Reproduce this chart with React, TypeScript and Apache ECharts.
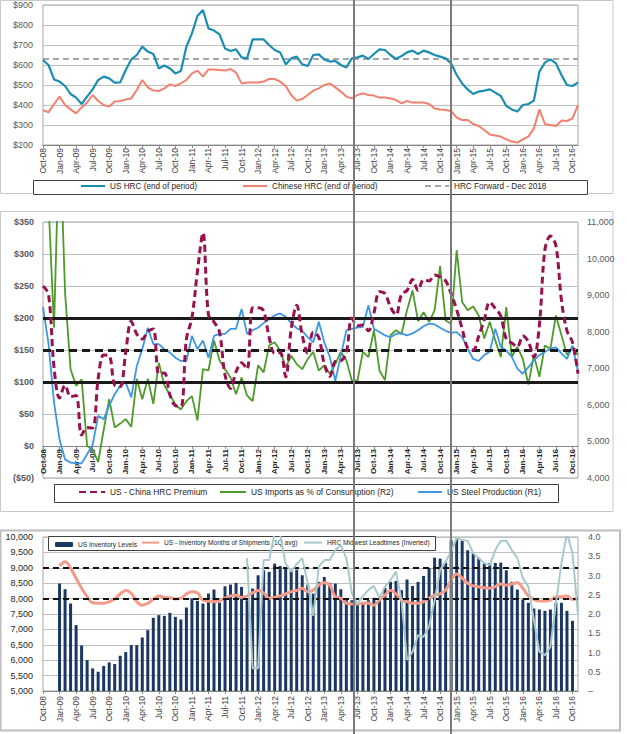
import React, { useEffect, useRef } from "react";
import * as echarts from "echarts";

const months = [
  "Oct-08", "Nov-08", "Dec-08",
  "Jan-09", "Feb-09", "Mar-09", "Apr-09", "May-09", "Jun-09", "Jul-09", "Aug-09", "Sep-09", "Oct-09", "Nov-09", "Dec-09",
  "Jan-10", "Feb-10", "Mar-10", "Apr-10", "May-10", "Jun-10", "Jul-10", "Aug-10", "Sep-10", "Oct-10", "Nov-10", "Dec-10",
  "Jan-11", "Feb-11", "Mar-11", "Apr-11", "May-11", "Jun-11", "Jul-11", "Aug-11", "Sep-11", "Oct-11", "Nov-11", "Dec-11",
  "Jan-12", "Feb-12", "Mar-12", "Apr-12", "May-12", "Jun-12", "Jul-12", "Aug-12", "Sep-12", "Oct-12", "Nov-12", "Dec-12",
  "Jan-13", "Feb-13", "Mar-13", "Apr-13", "May-13", "Jun-13", "Jul-13", "Aug-13", "Sep-13", "Oct-13", "Nov-13", "Dec-13",
  "Jan-14", "Feb-14", "Mar-14", "Apr-14", "May-14", "Jun-14", "Jul-14", "Aug-14", "Sep-14", "Oct-14", "Nov-14", "Dec-14",
  "Jan-15", "Feb-15", "Mar-15", "Apr-15", "May-15", "Jun-15", "Jul-15", "Aug-15", "Sep-15", "Oct-15", "Nov-15", "Dec-15",
  "Jan-16", "Feb-16", "Mar-16", "Apr-16", "May-16", "Jun-16", "Jul-16", "Aug-16", "Sep-16", "Oct-16", "Nov-16",
];

// Panel 1 ($/t)
const usHrc = [
  625, 600, 528, 517, 495, 455, 437, 405, 442, 478,
  525, 542, 533, 512, 513, 575, 628, 650, 692, 667,
  655, 583, 597, 583, 558, 570, 692, 758, 845, 875,
  783, 772, 753, 683, 670, 678, 638, 633, 728, 728,
  728, 700, 675, 663, 603, 633, 642, 603, 595, 650,
  653, 628, 617, 620, 600, 588, 633, 638, 647, 630,
  655, 678, 675, 650, 630, 645, 663, 672, 655, 672,
  663, 650, 642, 633, 608, 550, 508, 478, 455, 467,
  472, 478, 462, 445, 395, 378, 367, 400, 405, 422,
  567, 612, 628, 608, 550, 500, 495, 513,
];
const chinaHrc = [
  375, 363, 405, 442, 400, 378, 358, 388, 413, 450,
  420, 400, 392, 417, 420, 428, 433, 475, 525, 488,
  472, 470, 483, 503, 495, 508, 525, 558, 572, 542,
  578, 578, 575, 572, 580, 562, 508, 513, 512, 512,
  517, 530, 530, 517, 495, 450, 422, 430, 450, 472,
  483, 500, 508, 488, 467, 442, 433, 450, 458, 450,
  447, 437, 437, 433, 425, 408, 420, 412, 412, 412,
  405, 383, 378, 375, 370, 337, 325, 325, 305, 295,
  275, 253, 247, 242, 228, 217, 212, 228, 242, 283,
  378, 305, 300, 295, 322, 320, 333, 400,
];
const hrcForward = 630;

// Panel 2
const premium = [
  250, 237, 123, 75, 95, 77, 79, 17, 29, 28,
  105, 142, 141, 95, 93, 147, 195, 175, 167, 179,
  183, 113, 114, 80, 63, 62, 167, 200, 273, 333,
  205, 194, 178, 111, 90, 116, 130, 120, 216, 216,
  211, 170, 145, 146, 108, 183, 220, 173, 145, 178,
  170, 128, 109, 132, 133, 146, 200, 188, 189, 180,
  208, 241, 238, 217, 205, 237, 243, 260, 243, 260,
  258, 267, 264, 258, 238, 213, 183, 153, 150, 172,
  197, 225, 215, 203, 167, 161, 155, 172, 163, 139,
  189, 307, 328, 313, 228, 180, 162, 113,
];
const importsPct = [
  55, 48, 28.5, 60, 34, 22, 19.4, 20.4, 10, 9.5,
  7.5, 12.5, 17.3, 12.9, 13.5, 14.2, 13, 20.5, 17.3, 20.5,
  16.6, 23, 19.5, 18, 16.5, 15.7, 17, 17.8, 14, 22,
  21.8, 26.5, 23.4, 22, 20.7, 18.1, 20.7, 17.9, 17, 22.6,
  21.5, 25.7, 26.2, 24.9, 22.3, 24.1, 22.8, 22, 23.6, 24.7,
  21.8, 22.6, 21.3, 22.8, 24.7, 23.4, 20.2, 20.2, 24.7, 23.9,
  28.1, 21.8, 20.3, 27.3, 28.1, 27.5, 31.2, 34.3, 29.5, 30.9,
  29.4, 31.2, 38.1, 29.6, 29.1, 40.6, 32.5, 31.2, 31.8, 30.4,
  26.8, 29.4, 26.5, 23.9, 31.7, 23.9, 25.5, 23.6, 19.6, 24.2,
  20.8, 25.7, 25.2, 30.4, 27.3, 24.2, 25.5, 24.2,
];
const steelProd = [
  8672, 7675, 6065, 5050, 4508, 4420, 4400, 4400, 4650, 4910,
  5700, 5610, 5980, 6290, 6520, 6610, 6205, 7060, 7520, 8110,
  7660, 7660, 7520, 7430, 7290, 7200, 7200, 7885, 7520, 7760,
  7290, 7885, 7940, 7940, 8080, 8080, 8620, 7940, 8040, 8110,
  8235, 8340, 8445, 8500, 8410, 8235, 8095, 8025, 7850, 7710,
  8270, 7710, 7310, 6660, 7340, 8040, 8080, 8110, 8130, 8725,
  8080, 7990, 7900, 7850, 7940, 7955, 7900, 7955, 8040, 8150,
  8220, 8200, 8110, 8025, 7970, 7990, 7850, 7535, 7255, 7200,
  7360, 7450, 8080, 7590, 7480, 7310, 6990, 6850, 7030, 7220,
  7360, 7450, 7535, 7570, 7410, 7255, 7620, 6905,
];

// Panel 3
const inventory = [
  null, null, null, 8488, 8304, 7840, 7138, 6479, 6004, 5734,
  5626, 5810, 5928, 5874, 6144, 6263, 6490, 6490, 6738, 6976,
  7376, 7462, 7440, 7538, 7408, 7322, 7710, 8002, 7926, 7840,
  8164, 8294, 7872, 8402, 8456, 8510, 8380, 7948, 8326, 8758,
  8920, 8866, 9136, 9060, 8974, 8920, 8942, 8758, 8456, 8164,
  8542, 8704, 8510, 8488, 8304, 7948, 7948, 7850, 7894, 7948,
  8024, 8056, 8348, 8542, 8574, 8272, 8618, 8412, 8542, 8736,
  8996, 9330, 9298, 9168, 9892, 9946, 9870, 9568, 9482, 9330,
  9136, 9158, 9158, 9168, 8920, 8542, 8294, 7970, 7862, 7678,
  7646, 7602, 7646, 7862, 7862, 7602, 7278, null,
];
const monthsShip = [
  null, null, null, 3.25, 3.36, 3.19, 2.93, 2.67, 2.45, 2.29,
  2.28, 2.28, 2.32, 2.39, 2.52, 2.61, 2.54, 2.32, 2.23, 2.28,
  2.38, 2.47, 2.43, 2.42, 2.39, 2.41, 2.52, 2.58, 2.55, 2.36,
  2.34, 2.32, 2.35, 2.41, 2.47, 2.49, 2.43, 2.47, 2.55, 2.61,
  2.55, 2.41, 2.43, 2.47, 2.52, 2.58, 2.61, 2.67, 2.58, 2.62,
  2.75, 2.81, 2.75, 2.45, 2.41, 2.28, 2.26, 2.26, 2.28, 2.28,
  2.23, 2.36, 2.49, 2.62, 2.52, 2.36, 2.32, 2.28, 2.28, 2.32,
  2.41, 2.49, 2.52, 2.62, 2.88, 3.04, 2.93, 2.8, 2.73, 2.71,
  2.68, 2.67, 2.71, 2.78, 2.75, 2.78, 2.81, 2.67, 2.47, 2.38,
  2.34, 2.34, 2.36, 2.45, 2.45, 2.47, 2.38, 2.41,
];
const leadtimes = [
  null, null, null, null, null, null, null, null, null, null,
  null, null, null, null, null, null, null, null, null, null,
  null, null, null, null, null, null, null, null, null, null,
  null, null, null, null, null, null, null, 3.45, 0.59, 0.59,
  3.4, 3.4, 4.1, 4.05, 3.3, 3.1, 3.3, 3.45, 2.8, 1.95,
  3.23, 3.4, 3.4, 3.66, 3.79, 3.45, 2.54, 2.26, 2.47, 2.62,
  2.73, 2.41, 2.71, 2.88, 3.1, 2.36, 0.81, 1.02, 1.45, 1.41,
  1.67, 2.36, 3.14, 3.36, 3.62, 3.97, 3.92, 3.9, 3.58, 3.45,
  3.32, 3.27, 3.66, 3.9, 3.9, 3.66, 3.45, 2.93, 2.71, 1.84,
  1.02, 0.93, 1.15, 2.28, 3.32, 4.1, 3.58, 1.97,
];

const FONT = "'Liberation Sans Narrow', 'Liberation Sans', Arial, sans-serif";
const LABEL = "#595959";
const GRIDLINE = "#c0c0c0";
const FRAME = "#a6a6a6";

const fmtComma = (v: number) => v.toLocaleString("en-US");

function xAxis(gridIndex: number, extra: any = {}) {
  return {
    type: "category",
    gridIndex,
    data: months,
    boundaryGap: false,
    ...(extra.axis || {}),
    axisLine: { onZero: false, lineStyle: { color: "#868686", width: 1 } },
    axisTick: { interval: 2, length: 3, lineStyle: { color: "#868686" } },
    axisLabel: {
      interval: 2,
      rotate: 90,
      fontSize: 8.5,
      color: "#404040",
      fontFamily: FONT,
      margin: 3,
      ...(extra.axisLabel || {}),
    },
    splitLine: { show: false },
  };
}

function legendItem(name: string, left: number, top: number, w: number, h: number, fs: number, hideSymbol = true) {
  return {
    data: [name],
    left,
    top,
    padding: 0,
    itemWidth: w,
    itemHeight: h,
    selectedMode: false,
    ...(hideSymbol ? { itemStyle: { opacity: 0 } } : {}),
    textStyle: { fontSize: fs, color: "#262626", fontFamily: FONT },
  };
}

export default function App() {
  const ref = useRef<HTMLDivElement>(null);

  useEffect(() => {
    document.body.style.margin = "0";
    const chart = echarts.init(ref.current!, undefined, { renderer: "svg" });

    const option: any = {
      animation: false,
      backgroundColor: "#ffffff",
      grid: [
        { left: 43, top: 5, width: 535, height: 140, show: true, borderColor: FRAME, borderWidth: 1 },
        { left: 43, top: 222, width: 535, height: 256, show: true, borderColor: FRAME, borderWidth: 1 },
        { left: 43, top: 537, width: 535, height: 154, show: true, borderColor: FRAME, borderWidth: 1 },
      ],
      xAxis: [
        xAxis(0),
        xAxis(1, {
          axis: { position: "bottom", offset: -32 },
          axisLabel: { fontWeight: "bold", fontSize: 8, color: "#262626", margin: 3 },
        }),
        xAxis(2, { axisLabel: { margin: 5, fontSize: 8.5 } }),
      ],
      yAxis: [
        {
          type: "value", gridIndex: 0, min: 200, max: 900, interval: 100,
          axisLine: { show: false }, axisTick: { show: false },
          axisLabel: { formatter: (v: number) => "$" + v, fontSize: 9, color: LABEL, fontFamily: FONT, margin: 10 },
          splitLine: { lineStyle: { color: GRIDLINE } },
        },
        {
          type: "value", gridIndex: 1, min: -50, max: 350, interval: 50,
          axisLine: { show: false }, axisTick: { show: false },
          axisLabel: {
            formatter: (v: number) => (v < 0 ? "($" + -v + ")" : "$" + v),
            fontSize: 9, color: LABEL, fontFamily: FONT, margin: 9, fontWeight: "bold",
          },
          splitLine: { lineStyle: { color: GRIDLINE } },
        },
        {
          type: "value", gridIndex: 1, position: "right", min: 4000, max: 11000, interval: 1000,
          axisLine: { show: false }, axisTick: { show: false },
          axisLabel: { formatter: fmtComma, fontSize: 9, color: LABEL, fontFamily: FONT, margin: 9 },
          splitLine: { show: false },
        },
        {
          type: "value", gridIndex: 1, position: "right", min: 5, max: 45, show: false,
          splitLine: { show: false },
        },
        {
          type: "value", gridIndex: 2, min: 5000, max: 10000, interval: 500,
          axisLine: { show: false }, axisTick: { show: false },
          axisLabel: { formatter: fmtComma, fontSize: 9, color: "#262626", fontFamily: FONT, margin: 10 },
          splitLine: { lineStyle: { color: GRIDLINE } },
        },
        {
          type: "value", gridIndex: 2, position: "right", min: 0, max: 4, interval: 0.5,
          axisLine: { show: false }, axisTick: { show: false },
          axisLabel: {
            formatter: (v: number) => (v === 0 ? "–" : v.toFixed(1)),
            fontSize: 9, color: LABEL, fontFamily: FONT, margin: 10,
          },
          splitLine: { show: false },
        },
      ],
      legend: [
        legendItem("US HRC (end of period)", 80, 182, 24, 10, 8.2),
        legendItem("Chinese HRC (end of period)", 242, 182, 24, 10, 8.2),
        legendItem("HRC Forward - Dec 2018", 424, 182, 24, 10, 8.2),
        legendItem("US - China HRC Premium", 78, 488, 26, 10, 8.4),
        legendItem("US Imports as % of Consumption (R2)", 219, 488, 26, 10, 8.4),
        legendItem("US Steel Production (R1)", 417, 488, 24, 10, 8.4),
        legendItem("US Inventory Levels", 55, 541, 18, 5, 6.6, false),
        legendItem("US - Inventory Months of Shipments (1Q avg)", 141, 539, 17, 9, 6.6),
        legendItem("HRC Midwest Leadtimes (Inverted)", 303, 539, 18, 9, 6.6),
      ],
      series: [
        {
          name: "US HRC (end of period)", type: "line", xAxisIndex: 0, yAxisIndex: 0,
          data: usHrc, symbol: "none", z: 4,
          lineStyle: { color: "#1b8db3", width: 2.2 }, itemStyle: { color: "#1b8db3" },
        },
        {
          name: "Chinese HRC (end of period)", type: "line", xAxisIndex: 0, yAxisIndex: 0,
          data: chinaHrc, symbol: "none", z: 3,
          lineStyle: { color: "#f2806e", width: 2 }, itemStyle: { color: "#f2806e" },
        },
        {
          name: "HRC Forward - Dec 2018", type: "line", xAxisIndex: 0, yAxisIndex: 0,
          data: [[months[0], hrcForward], [months[months.length - 1], hrcForward]],
          symbol: "none", z: 2,
          lineStyle: { color: "#a6a6a6", width: 2, type: [6, 4] }, itemStyle: { color: "#a6a6a6" },
        },
        {
          name: "US - China HRC Premium", type: "line", xAxisIndex: 1, yAxisIndex: 1,
          data: premium, symbol: "none", smooth: 0.35, z: 5,
          lineStyle: { color: "#98114f", width: 3, type: [7, 4] }, itemStyle: { color: "#98114f" },
          markLine: {
            silent: true, symbol: ["none", "none"], label: { show: false },
            lineStyle: { color: "#1a1a1a", width: 3, type: "solid" },
            emphasis: { disabled: true },
            data: [
              { yAxis: 200 },
              { yAxis: 100 },
              { yAxis: 150, lineStyle: { color: "#1a1a1a", width: 3, type: [8, 5] } },
            ],
          },
        },
        {
          name: "US Imports as % of Consumption (R2)", type: "line", xAxisIndex: 1, yAxisIndex: 3,
          data: importsPct, symbol: "none", z: 4,
          lineStyle: { color: "#4e9a2a", width: 1.8 }, itemStyle: { color: "#4e9a2a" },
        },
        {
          name: "US Steel Production (R1)", type: "line", xAxisIndex: 1, yAxisIndex: 2,
          data: steelProd, symbol: "none", z: 4,
          lineStyle: { color: "#3d97e6", width: 1.8 }, itemStyle: { color: "#3d97e6" },
        },
        {
          name: "US Inventory Levels", type: "bar", xAxisIndex: 2, yAxisIndex: 4,
          data: inventory, barWidth: 3, z: 2,
          itemStyle: { color: "#1b3763" },
          markLine: {
            silent: true, symbol: ["none", "none"], label: { show: false },
            lineStyle: { color: "#111111", width: 2, type: [6, 4] },
            emphasis: { disabled: true },
            data: [{ yAxis: 9000 }, { yAxis: 8000 }],
          },
        },
        {
          name: "US - Inventory Months of Shipments (1Q avg)", type: "line", xAxisIndex: 2, yAxisIndex: 5,
          data: monthsShip, symbol: "none", smooth: 0.4, z: 4,
          lineStyle: { color: "#f39a88", width: 3 }, itemStyle: { color: "#f39a88" },
        },
        {
          name: "HRC Midwest Leadtimes (Inverted)", type: "line", xAxisIndex: 2, yAxisIndex: 5,
          data: leadtimes, symbol: "none", z: 5,
          lineStyle: { color: "#a8c9cc", width: 2 }, itemStyle: { color: "#a8c9cc" },
        },
      ],
      graphic: [
        { type: "rect", z: 0, shape: { x: 0.5, y: 0.5, width: 612.5, height: 193 }, style: { fill: "none", stroke: "#c8c8c8", lineWidth: 1 } },
        { type: "rect", z: 0, shape: { x: 0.5, y: 211.5, width: 612.5, height: 300 }, style: { fill: "none", stroke: "#c8c8c8", lineWidth: 1 } },
        { type: "rect", z: 0, shape: { x: 0.5, y: 530.5, width: 619.5, height: 200 }, style: { fill: "none", stroke: "#bdbdbd", lineWidth: 2 } },
        { type: "rect", z: 1, shape: { x: 33.5, y: 180.5, width: 554, height: 14 }, style: { fill: "#ffffff", stroke: "#404040", lineWidth: 1 } },
        { type: "rect", z: 1, shape: { x: 54.5, y: 484.5, width: 504, height: 18 }, style: { fill: "#ffffff", stroke: "#404040", lineWidth: 1 } },
        { type: "rect", z: 1, shape: { x: 48.5, y: 536.5, width: 387, height: 14 }, style: { fill: "#ffffff", stroke: "#404040", lineWidth: 1 } },
        { type: "line", z: 100, shape: { x1: 354, y1: 0, x2: 354, y2: 734 }, style: { stroke: "#7a7a7a", lineWidth: 2 } },
        { type: "line", z: 100, shape: { x1: 451, y1: 0, x2: 451, y2: 734 }, style: { stroke: "#7a7a7a", lineWidth: 2 } },
      ],
    };

    chart.setOption(option);
    return () => chart.dispose();
  }, []);

  return <div ref={ref} style={{ width: 627, height: 734 }} />;
}
